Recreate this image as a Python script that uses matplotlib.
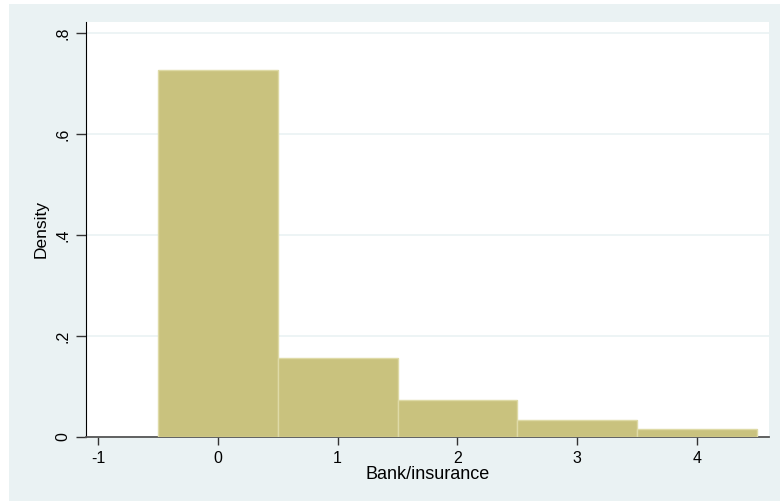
import matplotlib
matplotlib.use("Agg")
import matplotlib.pyplot as plt
import matplotlib.patches as mpatches

# histogram bins (centres, width 1) and densities
bin_centers = [0, 1, 2, 3, 4]
density = [0.7275, 0.156, 0.0725, 0.0328, 0.0149]
xticks = [-1, 0, 1, 2, 3, 4]
yticks = [0, 0.2, 0.4, 0.6, 0.8]
ytick_labels = ["0", ".2", ".4", ".6", ".8"]

plt.rcParams['font.family'] = ['Liberation Sans', 'DejaVu Sans']

W, H = 780, 501
fig = plt.figure(figsize=(W / 100, H / 100), dpi=100)
fig.patch.set_facecolor('white')
# Stata-like graph region, behind the axes
bg = mpatches.Rectangle((9 / W, 0), (W - 9) / W, (H - 4) / H,
                        transform=fig.transFigure,
                        facecolor='#EAF2F3', edgecolor='none', zorder=-10)
fig.patches.append(bg)

ax = fig.add_axes([86 / W, (H - 437) / H, (769 - 86) / W, (437 - 22) / H])
ax.set_zorder(1)
ax.set_facecolor('white')

ax.bar(bin_centers, density, width=1.0, color='#C9C27E',
       edgecolor='#DEDAA6', linewidth=1.0, zorder=3)

ax.set_xlim(-1.1, 4.6)
ax.set_ylim(0, 0.822)
ax.set_xticks(xticks)
ax.set_xticklabels([str(v) for v in xticks], fontsize=11.5)
ax.set_yticks(yticks)
ax.set_yticklabels(ytick_labels, fontsize=11.5, rotation=90, va='center')
ax.grid(axis='y', color='#EAF2F3', linewidth=1.2, zorder=0)

for side in ['top', 'right']:
    ax.spines[side].set_visible(False)
ax.spines['left'].set_color('black')
ax.spines['bottom'].set_color('#555555')
ax.spines['bottom'].set_linewidth(1.3)
ax.tick_params(axis='x', length=6, width=1, color='#333333', pad=4)
ax.tick_params(axis='y', length=7, width=1, color='#333333', pad=4)

ax.set_xlabel('Bank/insurance', fontsize=13, labelpad=0)
ax.set_ylabel('Density', fontsize=12.5, labelpad=5)

fig.savefig('out.png', dpi=100, facecolor=fig.get_facecolor())
